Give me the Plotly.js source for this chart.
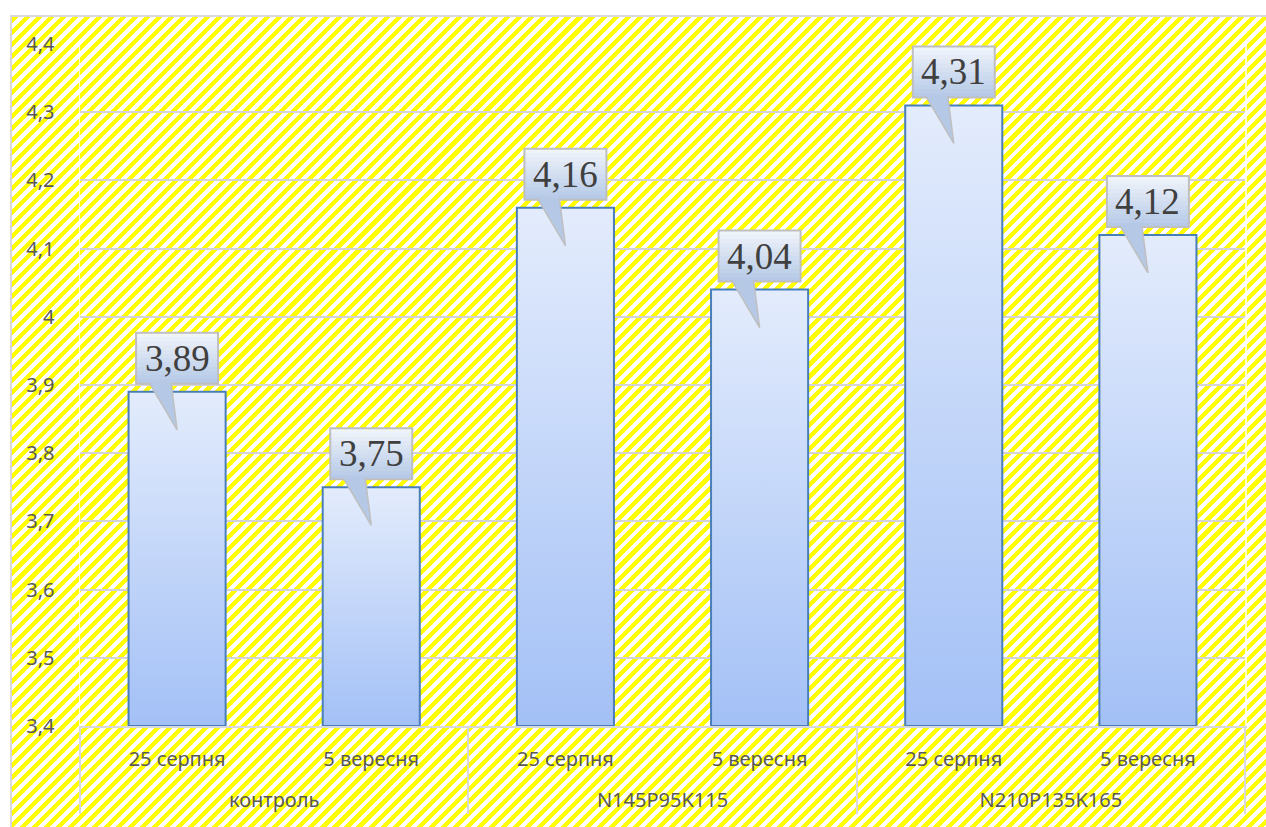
<!DOCTYPE html>
<html>
<head>
<meta charset="utf-8">
<script src="https://cdn.plot.ly/plotly-3.0.1.min.js"></script>
<style>
  html, body { margin: 0; padding: 0; width: 1266px; height: 827px; overflow: hidden; background: #ffffff; }
  #bg {
    position: absolute; left: 10px; top: 15px; right: -4px; bottom: -4px;
    border: 2px solid #d9d9d9;
    background: repeating-linear-gradient(135deg, #ffff00 0px, #ffff00 4.3px, #ffffff 4.3px, #ffffff 8.5px);
  }
  #chart { position: absolute; left: 0; top: 0; width: 1266px; height: 827px; }
</style>
</head>
<body>
<div id="bg"></div>
<div id="chart"></div>
<script>
// ---- data ----
const groups = ["контроль", "контроль", "N145P95K115", "N145P95K115", "N210P135K165", "N210P135K165"];
const dates = ["25 серпня", "5 вересня", "25 серпня", "5 вересня", "25 серпня", "5 вересня"];
const values = [3.89, 3.75, 4.16, 4.04, 4.31, 4.12];
const yTickVals = [3.4, 3.5, 3.6, 3.7, 3.8, 3.9, 4.0, 4.1, 4.2, 4.3, 4.4];
const yTickText = ["3,4", "3,5", "3,6", "3,7", "3,8", "3,9", "4", "4,1", "4,2", "4,3", "4,4"];
const yMin = 3.4, yMax = 4.4;

// ---- styles ----
const tickFont = { family: "Noto Sans, DejaVu Sans, sans-serif", size: 20, color: "#595959" };
const barHalf = 0.25;

function lerpColor(a, b, t) {
  const pa = [parseInt(a.slice(1,3),16), parseInt(a.slice(3,5),16), parseInt(a.slice(5,7),16)];
  const pb = [parseInt(b.slice(1,3),16), parseInt(b.slice(3,5),16), parseInt(b.slice(5,7),16)];
  const c = pa.map((v, k) => Math.round(v + (pb[k] - v) * t));
  return "rgb(" + c.join(",") + ")";
}

// group row shown one line lower (extra spacing between the two label rows)
const groupDisplay = groups.map(g => "<br>" + g);

const traces = [];
// invisible trace defining the multicategory axis
traces.push({
  type: "bar", x: [groupDisplay, dates], y: values,
  marker: { color: "rgba(0,0,0,0)" }, hoverinfo: "skip", showlegend: false,
  xaxis: "x", yaxis: "y"
});
// gradient bars
values.forEach((v, i) => {
  traces.push({
    type: "scatter", mode: "lines",
    x: [i - barHalf, i - barHalf, i + barHalf, i + barHalf, i - barHalf],
    y: [yMin, v, v, yMin, yMin],
    fill: "toself",
    fillgradient: { type: "vertical", colorscale: [[0, "#a3c0f6"], [1, "#e3ecfc"]] },
    line: { color: "#4a7ebb", width: 2 },
    hoverinfo: "skip", showlegend: false,
    xaxis: "x2", yaxis: "y"
  });
});

// callout shapes + labels
const shapes = [];
const annotations = [];
const gap = 8, boxH = 51, boxHalfW = 41, bands = 12;
values.forEach((v, i) => {
  for (let k = 0; k < bands; k++) {
    shapes.push({
      type: "rect", xref: "x2", yref: "y", xsizemode: "pixel", ysizemode: "pixel",
      xanchor: i, yanchor: v,
      x0: -boxHalfW, x1: boxHalfW,
      y0: gap + k * boxH / bands, y1: gap + (k + 1) * boxH / bands + 0.6,
      fillcolor: lerpColor("#b3c7e5", "#f2f6fc", (k + 0.5) / bands),
      line: { width: 0 }
    });
  }
  shapes.push({
    type: "rect", xref: "x2", yref: "y", xsizemode: "pixel", ysizemode: "pixel",
    xanchor: i, yanchor: v,
    x0: -boxHalfW, x1: boxHalfW, y0: gap, y1: gap + boxH,
    fillcolor: "rgba(0,0,0,0)",
    line: { color: "#bfbfbf", width: 2 }
  });
  shapes.push({
    type: "path", xref: "x2", yref: "y", xsizemode: "pixel", ysizemode: "pixel",
    xanchor: i, yanchor: v,
    path: "M -28 " + (gap + 1.3) + " L 0 -38 L -6 " + (gap + 1.3),
    fillcolor: "#b5c9e7",
    line: { color: "#bfbfbf", width: 1.5 }
  });
  annotations.push({
    xref: "x2", yref: "y", x: i, y: v, yshift: gap + boxH / 2,
    text: String(v).replace(".", ","), showarrow: false,
    xanchor: "center", yanchor: "middle",
    font: { family: "Liberation Serif, Times New Roman, serif", size: 37, color: "#404040" }
  });
});

const layout = {
  width: 1266, height: 827,
  margin: { l: 80, r: 21, t: 44, b: 101 },
  paper_bgcolor: "rgba(0,0,0,0)", plot_bgcolor: "rgba(0,0,0,0)",
  separators: ", ",
  showlegend: false,
  xaxis: {
    type: "multicategory", range: [-0.5, 5.5],
    showline: true, linecolor: "#d9d9d9", linewidth: 2,
    showdividers: true, dividercolor: "#d9d9d9", dividerwidth: 2,
    showgrid: false, ticks: "", tickfont: tickFont, ticklabelstandoff: 14, fixedrange: true
  },
  xaxis2: {
    overlaying: "x", anchor: "y", range: [-0.5, 5.5], visible: false, fixedrange: true
  },
  yaxis: {
    range: [yMin, yMax], tickvals: yTickVals, ticktext: yTickText,
    showgrid: true, gridcolor: "#d4d4d4", gridwidth: 2,
    zeroline: false, showline: true, mirror: true, linecolor: "rgba(255,255,255,0.8)", linewidth: 1.5,
    ticks: "", tickfont: tickFont, ticklabelstandoff: 20, fixedrange: true
  },
  shapes: shapes,
  annotations: annotations
};

Plotly.newPlot("chart", traces, layout, { displayModeBar: false, staticPlot: true });
</script>
</body>
</html>
